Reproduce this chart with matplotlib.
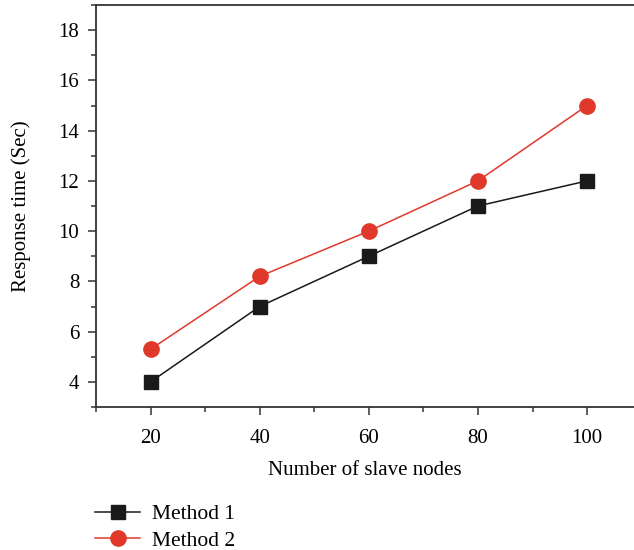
import matplotlib
matplotlib.use("Agg")
import matplotlib.pyplot as plt
from matplotlib.ticker import MultipleLocator

plt.rcParams['font.family'] = ['Liberation Serif', 'DejaVu Serif']

# Data
nodes = [20, 40, 60, 80, 100]
method1 = [4, 7, 9, 11, 12]
method2 = [5.3, 8.2, 10, 12, 15]

fig = plt.figure(figsize=(6.34, 5.5), dpi=100)
ax = fig.add_axes([96 / 634, 1 - 407 / 550, (634 - 96) / 634, (407 - 5) / 550])

ax.plot(nodes, method1, color='#1a1a1a', lw=1.1, marker='s', ms=9.5,
        label='Method 1')
ax.plot(nodes, method2, color='#e0392b', lw=1.1, marker='o', ms=11,
        label='Method 2')

ax.set_xlim(10, 108.6)
ax.set_ylim(3, 19)
ax.xaxis.set_major_locator(MultipleLocator(20))
ax.xaxis.set_minor_locator(MultipleLocator(10))
ax.yaxis.set_major_locator(MultipleLocator(2))
ax.yaxis.set_minor_locator(MultipleLocator(1))
ax.tick_params(which='major', direction='out', length=6, width=1.1,
               labelsize=15, color='#333333')
ax.tick_params(which='minor', direction='out', length=3.5, width=1.1,
               color='#333333')
ax.tick_params(axis='x', pad=10)
ax.tick_params(axis='y', pad=6)

ax.spines['right'].set_visible(False)
for s in ['left', 'bottom', 'top']:
    ax.spines[s].set_linewidth(1.3)
    ax.spines[s].set_color('#333333')

ax.set_xlabel('Number of slave nodes', fontsize=15, labelpad=9)
ax.set_ylabel('Response time (Sec)', fontsize=15, labelpad=20)

handles, labels = ax.get_legend_handles_labels()
fig.legend(handles, labels, loc='center left', bbox_to_anchor=(0.150, 0.041),
           frameon=False, fontsize=15.5, handlelength=2.1, handletextpad=0.55,
           labelspacing=0.3, borderaxespad=0, borderpad=0)

plt.savefig("out.png", dpi=100)
